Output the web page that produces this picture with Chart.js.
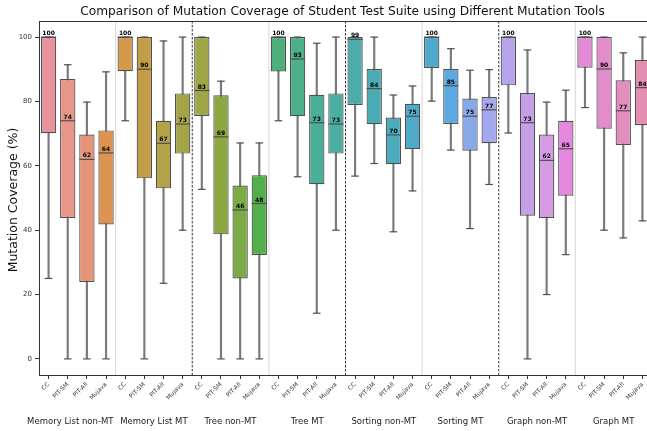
<!DOCTYPE html>
<html>
<head>
<meta charset="utf-8">
<script src="https://cdn.jsdelivr.net/npm/chart.js@4.4.1/dist/chart.umd.min.js"></script>
<style>
  body { margin: 0; background: #ffffff; overflow: hidden; }
  #wrap { width: 652px; height: 431px; }
</style>
</head>
<body>
<div id="wrap"><canvas id="grafico"></canvas></div>
<script>
// dados
const grupos = ['Memory List non-MT', 'Memory List MT', 'Tree non-MT', 'Tree MT',
                'Sorting non-MT', 'Sorting MT', 'Graph non-MT', 'Graph MT'];
const ferramentas = ['CC', 'PIT-SM', 'PIT-All', 'Mujava'];
const yTicks = [0, 20, 40, 60, 80, 100];

const minimos = [25, 0, 0, 0,  74, 0, 23.5, 40,  52.7, 0, 0, 0,  74, 56.6, 14.2, 40,
                 56.8, 60.7, 39.5, 52.2,  80.1, 64.9, 40.5, 54.2,  70.2, 0, 20, 32.4,  78.1, 40, 37.6, 42.9];
const q1 = [70.1, 43.8, 23.9, 41.8,  89.4, 56.1, 53, 63.8,  75.5, 38.7, 25, 32.3,  89.3, 75.4, 54.3, 63.8,
            78.9, 72.9, 60.5, 65.2,  90.4, 73, 64.7, 67,  85, 44.5, 43.8, 50.7,  90.5, 71.5, 66.5, 72.6];
const medianas = [100, 74, 62, 64,  100, 90, 67, 73,  83.4, 69, 46.3, 48.3,  100, 93.2, 73.4, 73,
                  99.3, 84, 69.6, 75.4,  100, 84.9, 75.4, 77.4,  100, 73.4, 61.7, 65.3,  100, 90.1, 77.1, 84.3];
const q3 = [100, 87, 69.7, 71,  100, 100, 74, 82.5,  100, 81.9, 53.9, 57.1,  100, 100, 82.1, 82.5,
            100, 90.1, 75, 79.3,  100, 90.1, 80.9, 81.4,  100, 82.6, 69.7, 74,  100, 100, 86.6, 92.9];
const maximos = [100, 91.4, 79.8, 89.2,  100, 100, 98.8, 100,  100, 86.3, 67.1, 67.1,  100, 100, 98.1, 100,
                 100, 100, 82, 84.8,  100, 96.4, 89.7, 89.9,  100, 96, 79.8, 83.5,  100, 100, 95.1, 100];

const cores = ['#e8929d', '#e8968a', '#e69578', '#dc9450', '#d39a4c', '#c49d48', '#b3a348', '#a5a548',
               '#9ea646', '#8da843', '#7aab45', '#52b04a', '#4db07a', '#4cb08b', '#4aaf99', '#4baea3',
               '#4cabab', '#4babb5', '#4caabd', '#4fabc8', '#4ea9cc', '#5aa9e2', '#88a9e8', '#a4a8ee',
               '#b6a3e9', '#c69fe5', '#d59be3', '#e688e0', '#e48ad8', '#e48ccb', '#e48dbf', '#e48fb2'];

const labels = grupos.flatMap(() => ferramentas);
const corLinha = '#4f4f4f';
const corBigode = '#7a7a7a';

const extras = {
    id: 'extras',
    beforeDatasetsDraw(chart) {
        const ctx = chart.ctx;
        const x = chart.scales.x;
        const area = chart.chartArea;
        ctx.save();
        for (let g = 1; g < grupos.length; g++) {
            const i = g * ferramentas.length;
            const px = (x.getPixelForValue(i - 1) + x.getPixelForValue(i)) / 2;
            ctx.beginPath();
            if (g % 2 == 0) {
                ctx.setLineDash([2.5, 1.5]);
                ctx.strokeStyle = '#333333';
                ctx.lineWidth = 1;
            } else {
                ctx.setLineDash([]);
                ctx.strokeStyle = '#dddddd';
                ctx.lineWidth = 1.2;
            }
            ctx.moveTo(px, area.top);
            ctx.lineTo(px, area.bottom);
            ctx.stroke();
        }
        ctx.restore();
    },
    afterDraw(chart) {
        const ctx = chart.ctx;
        const x = chart.scales.x;
        const y = chart.scales.y;
        const area = chart.chartArea;
        ctx.save();

        // moldura
        ctx.strokeStyle = '#333333';
        ctx.lineWidth = 1;
        ctx.strokeRect(area.left + 0.5, area.top + 0.5, area.right - area.left, area.bottom - area.top);

        // rotulos das medianas
        ctx.fillStyle = '#000000';
        ctx.font = 'bold 6px "DejaVu Sans"';
        ctx.textAlign = 'center';
        ctx.textBaseline = 'bottom';
        medianas.forEach((m, i) => {
            ctx.fillText(Math.round(m), x.getPixelForValue(i), y.getPixelForValue(m) - 0.5);
        });

        // nomes dos grupos
        ctx.fillStyle = '#222222';
        ctx.font = '8.5px "DejaVu Sans"';
        ctx.textBaseline = 'middle';
        grupos.forEach((g, k) => {
            const a = x.getPixelForValue(k * 4);
            const b = x.getPixelForValue(k * 4 + 3);
            let cx = (a + b) / 2;
            if (k == 0) cx -= 7;
            ctx.fillText(g, cx, 421.5);
        });

        // titulo
        ctx.fillStyle = '#111111';
        ctx.font = '12.2px "DejaVu Sans"';
        ctx.fillText('Comparison of Mutation Coverage of Student Test Suite using Different Mutation Tools',
            342.5, 12);

        // titulo do eixo y
        ctx.font = '12.5px "DejaVu Sans"';
        ctx.translate(14, 200);
        ctx.rotate(-Math.PI / 2);
        ctx.fillText('Mutation Coverage (%)', 0, 0);
        ctx.restore();
    }
};

const ctx1 = document.getElementById('grafico');

new Chart(ctx1, {
    type: 'bar',
    data: {
        labels: labels,
        datasets: [
            {
                label: 'caixa',
                data: q1.map((v, i) => [v, q3[i]]),
                backgroundColor: cores,
                borderColor: corLinha,
                borderWidth: 1.2,
                borderSkipped: false,
                barPercentage: 0.8,
                categoryPercentage: 1,
                grouped: false,
                order: 2
            },
            {
                label: 'bigode',
                data: minimos.map((v, i) => [v, maximos[i]]),
                backgroundColor: corBigode,
                borderWidth: 0,
                barThickness: 1.5,
                grouped: false,
                order: 3
            },
            {
                type: 'line',
                label: 'mediana',
                data: medianas,
                showLine: false,
                pointStyle: 'line',
                pointRadius: 7.5,
                pointHoverRadius: 7.5,
                borderColor: corLinha,
                borderWidth: 1.2,
                clip: false,
                order: 1
            },
            {
                type: 'line',
                label: 'min',
                data: minimos,
                showLine: false,
                pointStyle: 'line',
                pointRadius: 3.8,
                pointHoverRadius: 3.8,
                borderColor: corLinha,
                borderWidth: 1.2,
                clip: false,
                order: 1
            },
            {
                type: 'line',
                label: 'max',
                data: maximos,
                showLine: false,
                pointStyle: 'line',
                pointRadius: 3.8,
                pointHoverRadius: 3.8,
                borderColor: corLinha,
                borderWidth: 1.2,
                clip: false,
                order: 1
            }
        ]
    },
    options: {
        responsive: true,
        maintainAspectRatio: false,
        animation: false,
        layout: { autoPadding: false, padding: { top: 21, left: 0, right: 0, bottom: 0 } },
        plugins: {
            legend: { display: false },
            tooltip: { enabled: false }
        },
        scales: {
            x: {
                offset: true,
                afterFit: (s) => { s.height = 56; s.paddingLeft = 0; s.paddingRight = 0; },
                grid: { offset: false, drawOnChartArea: false, tickLength: 4, color: '#333333' },
                border: { display: true, color: '#333333' },
                ticks: {
                    color: '#333333',
                    font: { family: 'DejaVu Sans', size: 6 },
                    minRotation: 45,
                    maxRotation: 45,
                    autoSkip: false,
                    padding: 2
                }
            },
            y: {
                min: -5,
                max: 105,
                afterFit: (s) => { s.width = 39; },
                afterBuildTicks: (s) => { s.ticks = yTicks.map(v => ({ value: v })); },
                grid: { drawOnChartArea: false, tickLength: 4, color: '#333333' },
                border: { display: true, color: '#333333' },
                ticks: {
                    color: '#333333',
                    font: { family: 'DejaVu Sans', size: 7 },
                    padding: 3
                }
            }
        }
    },
    plugins: [extras]
});
</script>
</body>
</html>
